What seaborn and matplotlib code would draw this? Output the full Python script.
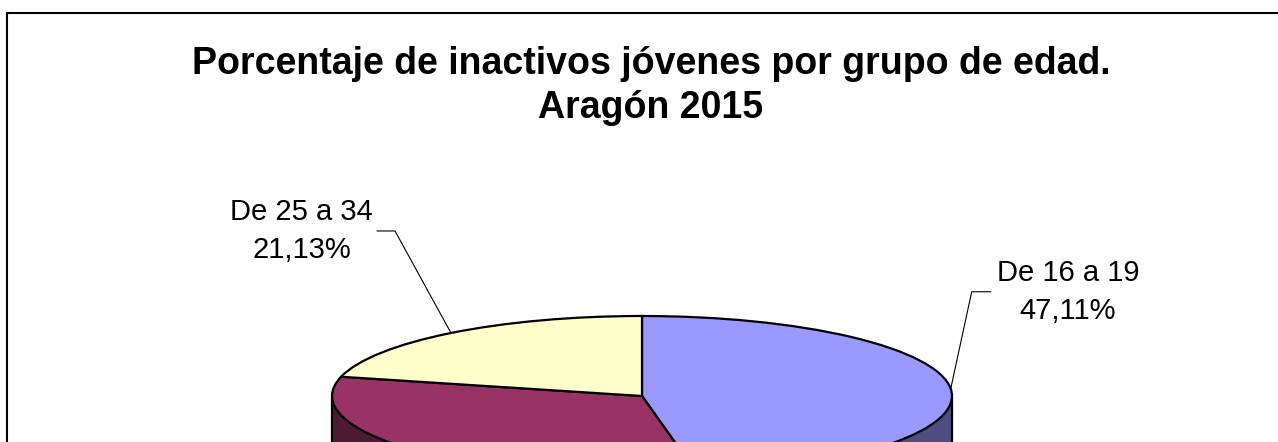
import numpy as np
import matplotlib
matplotlib.use('Agg')
import matplotlib.pyplot as plt
import seaborn as sns
from matplotlib.patches import Rectangle

# ---- data ----
categories = ['De 16 a 19', 'De 20 a 24', 'De 25 a 34']
percentages = [47.11, 31.76, 21.13]
pct_labels = ['47,11%', '31,76%', '21,13%']
title = "Porcentaje de inactivos jóvenes por grupo de edad.\nAragón 2015"

colors_top = ['#9999FF', '#993366', '#FFFFCC']
colors_side = ['#4D4D80', '#4D1A33', '#808066']

sns.set_theme(style='white')
plt.rcParams['font.family'] = ['Liberation Sans', 'DejaVu Sans']

W, H = 1278, 442
fig = plt.figure(figsize=(W / 100, H / 100), dpi=100)
fig.patch.set_facecolor('white')
ax = fig.add_axes([0, 0, 1, 1])

# ellipse geometry (pixels) -> data units
CX, CY, RX, RY = 642, 396, 310, 80


def dpx(dx, dy):
    """pixel offset -> data offset (dy positive = downwards)"""
    return dx / RX, -dy / RY


depth = 0.8
common = dict(startangle=90, counterclock=False)

# side (extrusion)
ax.pie(percentages, colors=colors_side, center=(0, -depth),
       wedgeprops=dict(edgecolor='black', linewidth=1.6), **common)
for d in np.linspace(depth, 0, 50):
    ax.pie(percentages, colors=colors_side, center=(0, -d),
           wedgeprops=dict(linewidth=0, edgecolor='none'), **common)

wedges, _ = ax.pie(percentages, colors=colors_top, center=(0, 0),
                   wedgeprops=dict(edgecolor='black', linewidth=1.6), **common)
r = wedges[0].r
ax.plot([-r, -r], [0, -depth], color='black', lw=1.6, solid_capstyle='butt')
ax.plot([r, r], [0, -depth], color='black', lw=1.6, solid_capstyle='butt')

# labels with leader lines (visible ones)
label_layout = {
    0: dict(elbow=(21, -97), run=19, gap=6, ha='left'),
    2: dict(elbow=(-56, -102), run=-18, gap=-4, ha='right'),
}
for i, lay in label_layout.items():
    w = wedges[i]
    th = np.deg2rad((w.theta1 + w.theta2) / 2)
    ax_, ay_ = r * np.cos(th), r * np.sin(th)
    ex, ey = dpx(*lay['elbow'])
    ex += ax_
    ey += ay_
    fx = ex + dpx(lay['run'], 0)[0]
    ax.plot([ax_, ex, fx], [ay_, ey, ey], color='black', lw=0.8)
    tx = fx + dpx(lay['gap'], 0)[0]
    ax.text(tx, ey, f"{categories[i]}\n{pct_labels[i]}", ha=lay['ha'], va='center',
            multialignment='center', fontsize=21, linespacing=1.45, color='black')

ax.set_xlim((0 - CX) / RX, (W - CX) / RX)
ax.set_ylim((CY - H) / RY, CY / RY)
ax.set_aspect('auto')
ax.axis('off')

fig.text(651 / W, 1 - 86 / H, title, ha='center', va='center',
         fontsize=27, fontweight='bold', linespacing=1.25, color='black')

fig.patches.append(Rectangle((6.5 / W, -0.5), 2.0, 1.5 - 12.5 / H, transform=fig.transFigure,
                             fill=False, edgecolor='black', linewidth=1.5))

fig.savefig('out.png', dpi=100, facecolor='white')
